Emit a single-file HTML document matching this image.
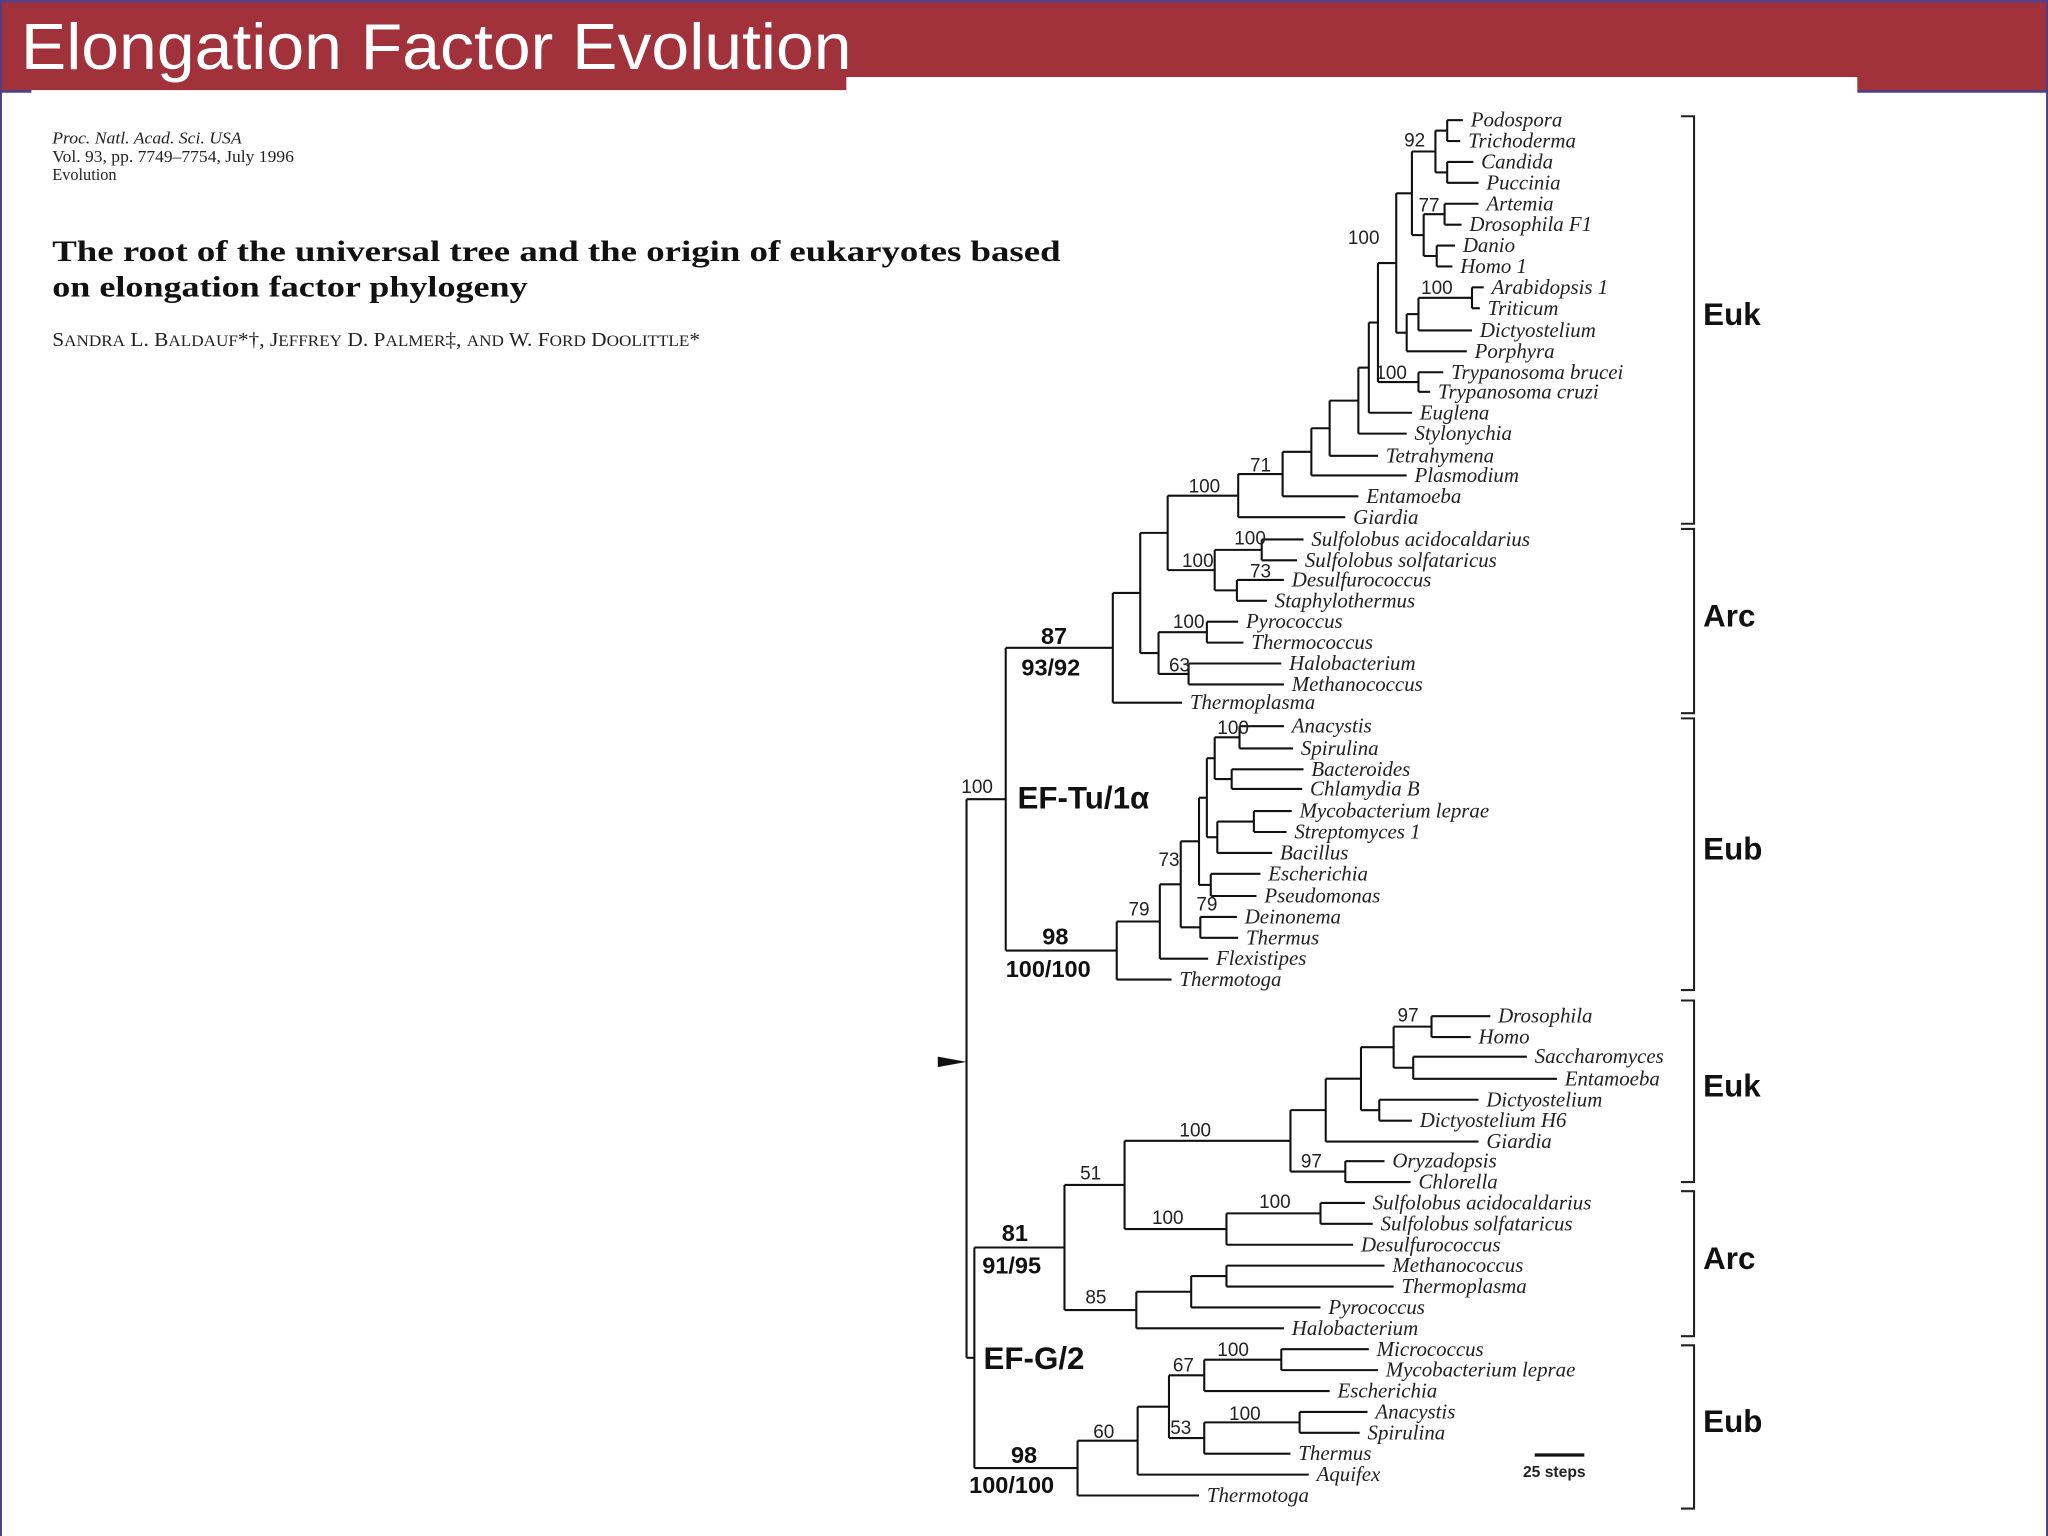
<!DOCTYPE html>
<html><head><meta charset="utf-8"><style>
html,body{margin:0;padding:0;background:#fff;}
svg{display:block;}
.sp{font-family:"Liberation Serif",serif;font-style:italic;font-size:16px;fill:#222;}
.bs{font-family:"Liberation Sans",sans-serif;font-size:14.5px;fill:#222;}
.bb{font-family:"Liberation Sans",sans-serif;font-size:18px;font-weight:bold;fill:#111;}
.grp{font-family:"Liberation Sans",sans-serif;font-size:24px;font-weight:bold;fill:#111;}
</style></head><body>
<svg id="chart" width="2048" height="1536" viewBox="0 0 1568 1176" xmlns="http://www.w3.org/2000/svg">
<rect x="0" y="0" width="1568" height="1176" fill="#fff"/>
<rect x="0" y="0" width="1568" height="70" fill="#a1313a"/>
<rect x="0" y="0" width="1568" height="2" fill="#5b3f86"/>
<rect x="0" y="69" width="1568" height="2" fill="#4b3f86"/>
<rect x="0" y="0" width="1.5" height="1176" fill="#4b3f86"/>
<rect x="1566.5" y="0" width="1.5" height="1176" fill="#4b3f86"/>
<text x="16" y="53" font-family="Liberation Sans, sans-serif" font-size="50" fill="#fff" textLength="636" lengthAdjust="spacingAndGlyphs">Elongation Factor Evolution</text>
<rect x="24" y="69" width="624" height="1107" fill="#fff"/>
<rect x="648" y="59" width="774" height="1117" fill="#fff"/>
<g font-family="Liberation Serif, serif" font-size="12.5" fill="#222">
<text x="40" y="110" font-style="italic" textLength="145" lengthAdjust="spacingAndGlyphs">Proc. Natl. Acad. Sci. USA</text>
<text x="40" y="124" textLength="185" lengthAdjust="spacingAndGlyphs">Vol. 93, pp. 7749–7754, July 1996</text>
<text x="40" y="138">Evolution</text>
</g>
<g font-family="Liberation Serif, serif" font-size="23" font-weight="bold" fill="#111">
<text x="40" y="200" textLength="772" lengthAdjust="spacingAndGlyphs">The root of the universal tree and the origin of eukaryotes based</text>
<text x="40" y="227" textLength="364" lengthAdjust="spacingAndGlyphs">on elongation factor phylogeny</text>
</g>
<text x="40" y="265" font-family="Liberation Serif, serif" font-size="15" fill="#222" textLength="496" lengthAdjust="spacingAndGlyphs">S<tspan font-size="12">ANDRA</tspan> L. B<tspan font-size="12">ALDAUF</tspan>*†, J<tspan font-size="12">EFFREY</tspan> D. P<tspan font-size="12">ALMER</tspan>‡, <tspan font-size="12">AND</tspan> W. F<tspan font-size="12">ORD</tspan> D<tspan font-size="12">OOLITTLE</tspan>*</text>
<g id="tree"></g>
<g id="labels"></g>
<path d="M718,809 L740,813 L718,817 Z" fill="#111"/>
<g>
<line x1="1175" y1="1114" x2="1213" y2="1114" stroke="#111" stroke-width="2.5"/>
<text x="1166" y="1131" font-family="Liberation Sans, sans-serif" font-size="12" font-weight="bold" fill="#222">25 steps</text>
</g>
</svg>
<script>
// Leaf names
const leafNames = ["Podospora","Trichoderma","Candida","Puccinia","Artemia","Drosophila F1","Danio","Homo 1","Arabidopsis 1","Triticum","Dictyostelium","Porphyra","Trypanosoma brucei","Trypanosoma cruzi","Euglena","Stylonychia","Tetrahymena","Plasmodium","Entamoeba","Giardia","Sulfolobus acidocaldarius","Sulfolobus solfataricus","Desulfurococcus","Staphylothermus","Pyrococcus","Thermococcus","Halobacterium","Methanococcus","Thermoplasma","Anacystis","Spirulina","Bacteroides","Chlamydia B","Mycobacterium leprae","Streptomyces 1","Bacillus","Escherichia","Pseudomonas","Deinonema","Thermus","Flexistipes","Thermotoga",
"Drosophila","Homo","Saccharomyces","Entamoeba","Dictyostelium","Dictyostelium H6","Giardia","Oryzadopsis","Chlorella","Sulfolobus acidocaldarius","Sulfolobus solfataricus","Desulfurococcus","Methanococcus","Thermoplasma","Pyrococcus","Halobacterium","Micrococcus","Mycobacterium leprae","Escherichia","Anacystis","Spirulina","Thermus","Aquifex","Thermotoga"];
// Leaf row positions
const leafRows = [92,108,124,140,156,172,188,204,220,236,253,269,285,300,316,332,349,364,380,396,413,429,444,460,476,492,508,524,538,556,573,589,604,621,637,653,669,686,702,718,734,750,
778,794,809,826,842,858,874,889,905,921,937,953,969,985,1001,1017,1033,1049,1065,1081,1097,1113,1129,1145];
// Branch tip depth
const tipDepth = [1120,1118,1128,1132,1132,1119,1114,1112,1136,1133,1127,1123,1105,1095,1081,1077,1055,1077,1040,1030,998,993,983,970,948,952,981,983,905,983,990,998,997,989,985,974,965,962,947,948,925,897,
1141,1126,1169,1192,1132,1081,1132,1060,1080,1045,1051,1036,1060,1067,1011,983,1048,1055,1018,1047,1041,988,1002,918];
// Tree topology: [nodeDepth, children...]; numbers = leaf index
const treeTu = [770,[852,[873,[894,[948,[982,[1004,[1018,[1040,[1048,[1055,[1069,[1081,[1099,[1108,0,1],[1108,2,3]],[1090,[1106,4,5],[1100,6,7]]],[1077,[1086,[1127,8,9],10],11]],[1086,12,13]],14],15],16],17],18],19],[930,[966,20,21],[947,22,23]]],[887,[924,24,25],[910,26,27]]],28],[855,[888,[904,[918,[924,[930,[949,29,30],[943,31,32]],[932,[960,33,34],35]],[927,36,37]],[919,38,39]],40],41]];
const treeG = [746,[815,[861,[988,[1015,[1042,[1067,[1096,42,43],[1082,44,45]],[1056,46,47]],48],[1030,49,50]],[939,[1011,51,52],53]],[870,[912,[939,54,55],56],57]],[825,[871,[895,[922,[981,58,59],60],[922,[995,61,62],63]],64],65]];
const treeRoot = [740, treeTu, treeG];
// Support values
const supportText = ["92","77","100","100","100","71","100","100","100","73","100","63","100","100","73","79","79","97","100","97","51","100","100","85","100","67","100","53","60"];
const supportPos = [[1075,112],[1086,162],[1032,187],[1088,225],[1053,290],[957,361],[910,377],[945,417],[905,434],[957,442],[898,481],[895,514],[736,607],[932,562],[887,663],[916,697],[864,701],[1070,782],[903,870],[996,894],[827,903],[964,925],[882,937],[831,998],[932,1038],[898,1050],[941,1087],[896,1098],[837,1101]];
const boldText = ["87","93/92","98","100/100","81","91/95","98","100/100"];
const boldPos = [[797,493],[782,517],[798,723],[770,748],[767,950],[752,975],[774,1120],[742,1143]];
const groupText = ["Euk","Arc","Eub","Euk","Arc","Eub"];
const groupTop = [87,403,548,764,910,1028];
const groupBottom = [403,548,760,907,1025,1157];

const NS="http://www.w3.org/2000/svg";
const tree=document.getElementById('tree');
const lab=document.getElementById('labels');
function line(x1,y1,x2,y2){
  const l=document.createElementNS(NS,'line');
  
  
  l.setAttribute('x1',x1);l.setAttribute('y1',y1);l.setAttribute('x2',x2);l.setAttribute('y2',y2);
  l.setAttribute('stroke','#111');l.setAttribute('stroke-width','1.6');
  tree.appendChild(l);
}
function txt(parent,x,y,s,cls,name){
  const t=document.createElementNS(NS,'text');
  
  
  t.setAttribute('x',x);t.setAttribute('y',y);t.setAttribute('class',cls);
  t.textContent=s;parent.appendChild(t);
}
function draw(n){
  if(typeof n==='number'){
    txt(tree,tipDepth[n]+6,leafRows[n]+5,leafNames[n],'sp','taxon-label');
    return {x:tipDepth[n],y:leafRows[n]};
  }
  const x=n[0];const ch=[];
  for(let i=1;i<n.length;i++){ch.push(draw(n[i]));}
  ch.forEach(c=>line(x,c.y,c.x,c.y));
  const ys=ch.map(c=>c.y);
  const y0=Math.min(...ys),y1=Math.max(...ys);
  line(x,y0,x,y1);
  return {x:x,y:(y0+y1)/2};
}
draw(treeRoot);
supportText.forEach((s,i)=>txt(lab,supportPos[i][0],supportPos[i][1],s,'bs','bootstrap-value'));
boldText.forEach((s,i)=>txt(lab,boldPos[i][0],boldPos[i][1],s,'bb','clade-support'));
txt(lab,779,619,'EF-Tu/1α','grp','ef-tu-label');
txt(lab,753,1048,'EF-G/2','grp','ef-g-label');
groupText.forEach((s,i)=>{
  const p=document.createElementNS(NS,'path');
  
  
  p.setAttribute('d',`M1287,${groupTop[i]+2} H1297 V${groupBottom[i]-2} H1287`);
  p.setAttribute('fill','none');p.setAttribute('stroke','#222');p.setAttribute('stroke-width','1.6');
  tree.appendChild(p);
  txt(lab,1304,(groupTop[i]+groupBottom[i])/2+4,s,'grp','group-label');
});
</script>
</body></html>
